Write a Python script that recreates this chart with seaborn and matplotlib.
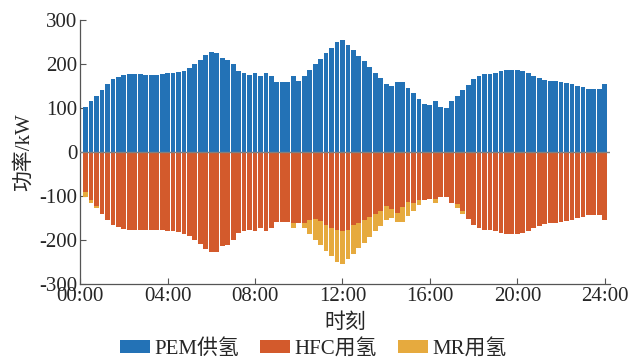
import numpy as np
import pandas as pd
import matplotlib.pyplot as plt
import seaborn as sns

sns.set_style('ticks')
plt.rcParams['font.family'] = ['Liberation Serif', 'Noto Sans CJK SC']
plt.rcParams['axes.unicode_minus'] = False

# 96 slots of 15 min over one day
slot = list(range(1, 97))

# PEM hydrogen supply (kW)
pem = [102, 116, 128, 140, 154, 165, 170, 175, 177, 177,
       177, 176, 176, 176, 177, 179, 180, 182, 185, 191,
       199, 208, 220, 227, 226, 214, 210, 199, 184, 180,
       176, 180, 173, 179, 172, 159, 159, 159, 172, 161,
       173, 186, 199, 211, 224, 236, 249, 254, 242, 231,
       219, 206, 193, 180, 167, 155, 150, 158, 159, 146,
       134, 121, 108, 106, 116, 103, 101, 115, 127, 140,
       153, 165, 173, 177, 178, 180, 183, 186, 187, 187,
       184, 179, 173, 168, 164, 162, 161, 159, 157, 154,
       150, 147, 144, 143, 142, 155]

# HFC hydrogen use (kW, drawn negative)
hfc = [90, 108, 123, 140, 154, 165, 170, 175, 177, 177,
       177, 176, 176, 176, 177, 179, 180, 182, 185, 191,
       199, 208, 220, 227, 226, 214, 210, 199, 184, 180,
       176, 180, 173, 179, 172, 159, 159, 159, 161, 161,
       161, 155, 152, 157, 165, 173, 177, 180, 177, 165,
       161, 154, 148, 140, 133, 123, 130, 139, 125, 114,
       115, 108, 108, 106, 107, 103, 101, 115, 118, 135,
       153, 165, 173, 177, 178, 180, 183, 186, 187, 187,
       184, 179, 173, 168, 164, 162, 161, 159, 157, 154,
       150, 147, 144, 143, 142, 155]

# MR hydrogen use (kW, drawn negative, stacked below HFC)
mr = [12, 8, 5, 0, 0, 0, 0, 0, 0, 0,
      0, 0, 0, 0, 0, 0, 0, 0, 0, 0,
      0, 0, 0, 0, 0, 0, 0, 0, 0, 0,
      0, 0, 0, 0, 0, 0, 0, 0, 11, 0,
      12, 31, 47, 54, 59, 63, 72, 74, 65, 66,
      58, 52, 45, 40, 34, 32, 20, 19, 34, 32,
      19, 13, 0, 0, 9, 0, 0, 0, 9, 5,
      0, 0, 0, 0, 0, 0, 0, 0, 0, 0,
      0, 0, 0, 0, 0, 0, 0, 0, 0, 0,
      0, 0, 0, 0, 0, 0]

tick_pos = [0, 16, 32, 48, 64, 80, 96]
tick_labels = ['00:00', '04:00', '08:00', '12:00', '16:00', '20:00', '24:00']

c_pem = '#2372b6'
c_hfc = '#d35a2c'
c_mr = '#e6aa3e'

df = pd.DataFrame({'slot': slot, 'pem': pem, 'hfc': hfc, 'mr': mr})
df['hfc_neg'] = -df['hfc']
df['mr_neg'] = -(df['hfc'] + df['mr'])

fig, ax = plt.subplots(figsize=(6.41, 3.62), dpi=100)
fig.subplots_adjust(left=0.125, right=0.952, top=0.945, bottom=0.215)

bar_kw = dict(saturation=1, width=0.88, native_scale=True, ax=ax, linewidth=0)
sns.barplot(data=df, x='slot', y='mr_neg', color=c_mr, label='MR用氢', **bar_kw)
sns.barplot(data=df, x='slot', y='hfc_neg', color=c_hfc, label='HFC用氢', **bar_kw)
sns.barplot(data=df, x='slot', y='pem', color=c_pem, label='PEM供氢', **bar_kw)

ax.axhline(0, color='#808080', lw=1.0, zorder=5)

ax.set_xlim(0, 97)
ax.set_ylim(-300, 300)
ax.set_xticks(tick_pos)
ax.set_xticklabels(tick_labels)
ax.set_yticks([-300, -200, -100, 0, 100, 200, 300])
ax.tick_params(direction='in', labelsize=15, length=4, color='#555555', pad=2)
sns.despine(ax=ax)
for s in ['left', 'bottom']:
    ax.spines[s].set_color('#555555')
    ax.spines[s].set_linewidth(0.9)

ax.set_xlabel('时刻', fontsize=15, labelpad=5)
ax.set_ylabel('功率/kW', fontsize=15, labelpad=4)

handles, labels = ax.get_legend_handles_labels()
order = [labels.index('PEM供氢'), labels.index('HFC用氢'), labels.index('MR用氢')]
ax.legend([handles[i] for i in order], [labels[i] for i in order],
          loc='center', bbox_to_anchor=(0.44, -0.245), ncol=3, frameon=False,
          fontsize=15, handlelength=1.45, handleheight=0.55, handletextpad=0.2,
          columnspacing=1.0, borderaxespad=0)

plt.savefig('out.png', dpi=100)
